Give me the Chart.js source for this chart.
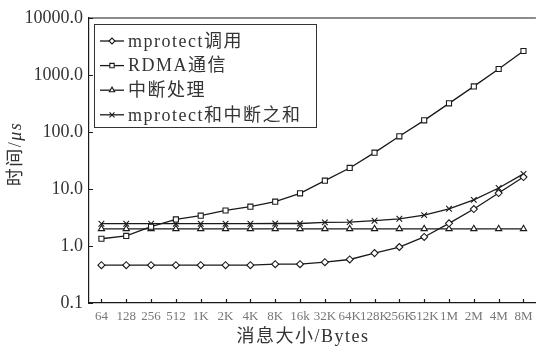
<!DOCTYPE html>
<html>
<head>
<meta charset="utf-8">
<script src="https://cdn.jsdelivr.net/npm/chart.js@4.4.1/dist/chart.umd.min.js"></script>
<style>
  html, body { margin: 0; padding: 0; background: #fff; overflow: hidden; }
  #wrap { width: 541px; height: 346px; }
</style>
</head>
<body>
<div id="wrap"><canvas id="chart" width="541" height="346"></canvas></div>
<script>
// message sizes (x categories)
const SIZES = ["64", "128", "256", "512", "1K", "2K", "4K", "8K", "16k", "32K",
               "64K", "128K", "256K", "512K", "1M", "2M", "4M", "8M"];

// latency in microseconds
const MPROTECT  = [0.46, 0.46, 0.46, 0.46, 0.46, 0.46, 0.46, 0.48, 0.48, 0.52,
                   0.58, 0.75, 0.96, 1.44, 2.5, 4.45, 8.5, 16.2];
const RDMA      = [1.34, 1.5, 2.18, 2.93, 3.4, 4.2, 4.9, 6.0, 8.4, 14.0,
                   23.4, 43.4, 84, 160, 318, 631, 1274, 2637];
const INTERRUPT = [2.0, 2.0, 2.0, 2.0, 2.0, 2.0, 2.0, 2.0, 2.0, 2.0,
                   2.0, 2.0, 2.0, 2.0, 2.0, 2.0, 2.0, 2.0];
const SUM       = [2.46, 2.46, 2.46, 2.46, 2.46, 2.46, 2.46, 2.48, 2.48, 2.6,
                   2.62, 2.78, 3.0, 3.48, 4.5, 6.45, 10.4, 18.4];

const Y_TICKS = [0.1, 1, 10, 100, 1000, 10000];
const NAMES = ["mprotect调用", "RDMA通信", "中断处理", "mprotect和中断之和"];
const X_TITLE = "消息大小/Bytes";
const Y_TITLE = ["时间/", "μs"];

const INK = "#1a1a1a";
const FAMILY = '"Liberation Serif", "Noto Sans CJK SC", serif';

function series(label, data, pointStyle, radius) {
  return {
    label, data, pointStyle,
    pointRadius: radius,
    pointHoverRadius: radius,
    borderColor: INK,
    backgroundColor: "#fff",
    pointBorderColor: INK,
    pointBackgroundColor: "#fff",
    borderWidth: 1.3,
    pointBorderWidth: 1.1,
    tension: 0
  };
}

// plot frame top, inward ticks, legend box and axis titles
const decorations = {
  id: "decorations",
  afterDraw(chart) {
    const { ctx, chartArea: a, scales: { x, y } } = chart;
    ctx.save();
    ctx.strokeStyle = INK;
    ctx.lineWidth = 1.2;
    ctx.beginPath();
    ctx.moveTo(a.left, a.top);
    ctx.lineTo(a.right, a.top);
    x.ticks.forEach((t, i) => {
      const px = Math.round(x.getPixelForTick(i)) + 0.5;
      ctx.moveTo(px, a.bottom);
      ctx.lineTo(px, a.bottom - 4);
    });
    y.ticks.forEach(t => {
      const py = Math.round(y.getPixelForValue(t.value)) + 0.5;
      ctx.moveTo(a.left, py);
      ctx.lineTo(a.left + 4, py);
    });
    ctx.stroke();

    // legend
    ctx.lineWidth = 1;
    ctx.strokeStyle = "#333";
    ctx.strokeRect(94.5, 24.5, 222, 103);
    ctx.font = "18px " + FAMILY;
    ctx.letterSpacing = "1.5px";
    ctx.textBaseline = "middle";
    chart.data.datasets.forEach((ds, i) => {
      const ly = 41 + i * 24.6;
      ctx.strokeStyle = INK;
      ctx.lineWidth = 1.3;
      ctx.beginPath();
      ctx.moveTo(100, ly);
      ctx.lineTo(124, ly);
      ctx.stroke();
      ctx.lineWidth = 1.1;
      ctx.fillStyle = "#fff";
      Chart.helpers.drawPoint(ctx, {
        pointStyle: ds.pointStyle, radius: ds.pointRadius - 0.5,
        rotation: 0, borderWidth: 1.1
      }, 112, ly);
      ctx.fillStyle = "#333";
      ctx.fillText(ds.label, 128, ly + 1);
    });

    // axis titles
    ctx.textAlign = "center";
    ctx.fillText(X_TITLE, 303, 337);
    ctx.translate(16, 154);
    ctx.rotate(-Math.PI / 2);
    ctx.textAlign = "left";
    const head = ctx.measureText(Y_TITLE[0]).width;
    ctx.font = "italic 18px " + FAMILY;
    const tail = ctx.measureText(Y_TITLE[1]).width;
    const start = -(head + tail) / 2;
    ctx.font = "18px " + FAMILY;
    ctx.fillText(Y_TITLE[0], start, 0);
    ctx.font = "italic 18px " + FAMILY;
    ctx.fillText(Y_TITLE[1], start + head, 0);
    ctx.restore();
  }
};

new Chart(document.getElementById("chart"), {
  type: "line",
  data: {
    labels: SIZES,
    datasets: [
      series(NAMES[0], MPROTECT, "rectRot", 3.5),
      series(NAMES[1], RDMA, "rect", 3.6),
      series(NAMES[2], INTERRUPT, "triangle", 3.6),
      series(NAMES[3], SUM, "crossRot", 4)
    ]
  },
  options: {
    responsive: false,
    animation: false,
    events: [],
    layout: { padding: { top: 18, left: 0, right: 0, bottom: 0 } },
    plugins: { legend: { display: false }, tooltip: { enabled: false } },
    scales: {
      x: {
        type: "category",
        offset: true,
        grid: { display: false, drawTicks: false },
        border: { display: true, color: INK, width: 1.2 },
        ticks: {
          color: "#777",
          font: { family: FAMILY, size: 13 },
          padding: 6,
          maxRotation: 0,
          autoSkip: false
        },
        afterFit(scale) { scale.height = 43; }
      },
      y: {
        type: "logarithmic",
        min: 0.1,
        max: 10000,
        grid: { display: false, drawTicks: false },
        border: { display: true, color: INK, width: 1.2 },
        afterBuildTicks(scale) {
          scale.ticks = Y_TICKS.map(v => ({ value: v }));
        },
        ticks: {
          color: "#333",
          font: { family: FAMILY, size: 18 },
          padding: 6,
          callback: v => Number(v).toFixed(1)
        },
        afterFit(scale) { scale.width = 89; }
      }
    }
  },
  plugins: [decorations]
});
</script>
</body>
</html>
